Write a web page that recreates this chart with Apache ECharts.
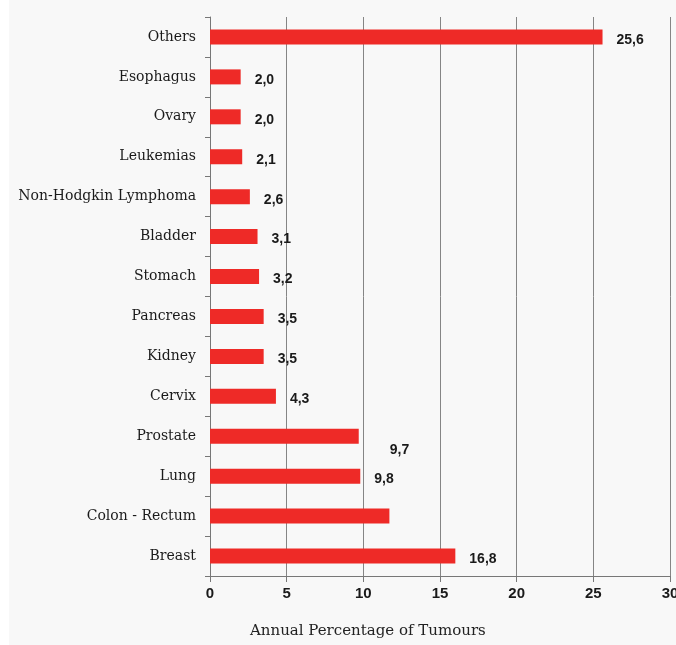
<!DOCTYPE html>
<html>
<head>
<meta charset="utf-8">
<script src="https://cdn.jsdelivr.net/npm/echarts@6/dist/echarts.min.js"></script>
<style>
html,body{margin:0;padding:0;background:#ffffff;overflow:hidden;width:676px;height:645px;}
#chart{width:676px;height:645px;}
</style>
</head>
<body>
<div id="chart"></div>
<script>
// Categories from bottom to top
var categories = ['Breast','Colon - Rectum','Lung','Prostate','Cervix','Kidney','Pancreas','Stomach','Bladder','Non-Hodgkin Lymphoma','Leukemias','Ovary','Esophagus','Others'];
// Bar lengths
var values = [16.0, 11.7, 9.8, 9.7, 4.3, 3.5, 3.5, 3.2, 3.1, 2.6, 2.1, 2.0, 2.0, 25.6];
// Printed value labels (empty = no label shown)
var valueLabels = ['16,8', '', '9,8', '9,7', '4,3', '3,5', '3,5', '3,2', '3,1', '2,6', '2,1', '2,0', '2,0', '25,6'];
var xTicks = [0, 5, 10, 15, 20, 25, 30];
var xTitle = 'Annual Percentage of Tumours';

var chart = echarts.init(document.getElementById('chart'), null, {renderer: 'canvas', width: 676, height: 645});

var seriesData = values.map(function (v, i) {
  var item = {value: v};
  if (categories[i] === 'Prostate') {
    item.label = {offset: [17, 14]};
  }
  return item;
});

chart.setOption({
  backgroundColor: '#f8f8f8',
  animation: false,
  graphic: [
    {type: 'rect', left: 0, top: 0, shape: {width: 9, height: 645}, style: {fill: '#ffffff'}, silent: true}
  ],
  title: {
    text: xTitle,
    left: 245,
    top: 619,
    textStyle: {fontFamily: 'DejaVu Serif', fontSize: 15, fontWeight: 'normal', color: '#222'}
  },
  grid: {left: 210, right: 6, top: 17, bottom: 69, containLabel: false, outerBoundsMode: 'none'},
  xAxis: {
    type: 'value',
    min: xTicks[0],
    max: xTicks[xTicks.length - 1],
    interval: 5,
    axisLine: {show: true, lineStyle: {color: '#777', width: 1}},
    axisTick: {show: true, length: 6, lineStyle: {color: '#777'}},
    axisLabel: {
      margin: 10,
      fontFamily: 'Liberation Sans',
      fontSize: 15,
      fontWeight: 'bold',
      color: '#1a1a1a'
    },
    splitLine: {show: true, lineStyle: {color: '#858585', width: 1}}
  },
  yAxis: {
    type: 'category',
    data: categories,
    axisLine: {show: true, lineStyle: {color: '#777', width: 1}},
    axisTick: {show: true, length: 5, lineStyle: {color: '#777'}},
    axisLabel: {
      margin: 14,
      fontFamily: 'DejaVu Serif',
      fontSize: 14,
      color: '#1a1a1a'
    }
  },
  series: [{
    type: 'bar',
    data: seriesData,
    barWidth: 15,
    itemStyle: {color: '#ee2a27'},
    label: {
      show: true,
      position: 'right',
      distance: 14,
      offset: [0, 3],
      fontFamily: 'Liberation Sans',
      fontSize: 14,
      fontWeight: 'bold',
      color: '#1a1a1a',
      formatter: function (p) { return valueLabels[p.dataIndex]; }
    }
  }]
});
</script>
</body>
</html>
